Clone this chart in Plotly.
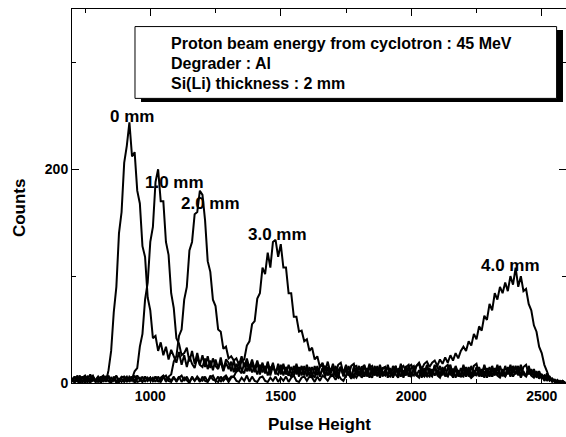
import plotly.graph_objects as go

# ---------------- data ----------------
PULSE_HEIGHT = list(range(700, 2600, 10))  # channel grid (10-channel bins)

COUNTS_0MM = [
    5, 1, 7, 2, 6, 0, 4, 8, 2, 3,
    6, 2, 7, 1, 12, 30, 66, 90, 140, 160,
    206, 222, 244, 212, 216, 180, 168, 128, 118, 80,
    68, 42, 44, 30, 38, 26, 34, 22, 31, 24,
    19, 29, 17, 26, 15, 25, 18, 14, 24, 17,
    15, 23, 13, 21, 12, 22, 14, 20, 11, 19,
    13, 20, 10, 18, 12, 9, 19, 11, 17, 10,
    15, 8, 17, 10, 16, 7, 14, 17, 9, 15,
    8, 16, 10, 7, 15, 9, 14, 6, 15, 9,
    13, 7, 15, 8, 14, 6, 13, 16, 7, 12,
    14, 6, 12, 15, 7, 13, 8, 5, 14, 8,
    7, 13, 6, 14, 8, 5, 13, 7, 15, 6,
    12, 7, 14, 5, 11, 13, 6, 12, 7, 14,
    6, 13, 7, 12, 5, 14, 8, 6, 13, 7,
    12, 5, 11, 14, 6, 11, 13, 5, 12, 7,
    6, 13, 7, 5, 12, 7, 14, 6, 11, 5,
    11, 6, 13, 7, 5, 12, 6, 11, 13, 6,
    10, 12, 5, 11, 6, 13, 7, 5, 11, 6,
    8, 4, 9, 3, 4, 1, 3, 0, 2, 0,
]

COUNTS_1MM = [
    2, 6, 1, 5, 0, 7, 3, 1, 6, 2,
    1, 5, 7, 2, 6, 1, 5, 0, 3, 6,
    5, 1, 6, 4, 11, 14, 34, 46, 78, 94,
    132, 146, 188, 200, 170, 170, 132, 120, 84, 70,
    42, 37, 26, 28, 33, 20, 30, 18, 28, 17,
    26, 15, 25, 14, 23, 16, 13, 24, 12, 22,
    19, 11, 21, 10, 20, 12, 9, 19, 11, 18,
    10, 19, 8, 17, 9, 18, 7, 16, 10, 8,
    17, 7, 15, 9, 6, 16, 8, 15, 7, 16,
    6, 15, 8, 5, 16, 7, 14, 6, 15, 8,
    14, 7, 5, 15, 8, 6, 16, 7, 5, 14,
    7, 15, 6, 13, 5, 14, 7, 16, 6, 13,
    15, 5, 13, 7, 16, 6, 14, 5, 13, 7,
    6, 14, 7, 5, 15, 8, 6, 14, 7, 16,
    7, 5, 14, 8, 6, 15, 5, 13, 7, 6,
    14, 6, 13, 5, 7, 15, 6, 13, 5, 14,
    6, 13, 7, 15, 5, 13, 7, 14, 6, 13,
    14, 7, 15, 8, 6, 14, 7, 11, 5, 9,
    4, 7, 5, 6, 2, 3, 0, 2, 0, 1,
]

COUNTS_2MM = [
    1, 5, 2, 7, 1, 4, 6, 0, 5, 2,
    5, 1, 6, 2, 7, 1, 4, 6, 3, 1,
    4, 6, 1, 5, 2, 7, 3, 1, 6, 2,
    5, 2, 6, 1, 5, 7, 2, 6, 8, 20,
    25, 44, 50, 78, 90, 124, 132, 158, 160, 180,
    176, 152, 114, 104, 78, 72, 50, 48, 32, 34,
    23, 25, 21, 23, 17, 25, 15, 23, 14, 22,
    13, 21, 12, 19, 10, 20, 11, 19, 8, 18,
    10, 18, 8, 17, 9, 7, 18, 9, 16, 7,
    17, 8, 6, 16, 7, 15, 17, 6, 15, 7,
    8, 16, 7, 15, 6, 16, 8, 5, 15, 16,
    7, 15, 16, 6, 14, 16, 7, 15, 5, 14,
    15, 7, 6, 16, 8, 5, 15, 7, 16, 6,
    14, 16, 7, 6, 15, 7, 17, 8, 6, 15,
    16, 7, 15, 6, 14, 17, 7, 15, 6, 14,
    7, 15, 6, 16, 8, 7, 15, 6, 17, 8,
    15, 6, 14, 7, 16, 8, 6, 15, 7, 16,
    8, 16, 7, 15, 17, 8, 13, 6, 10, 4,
    8, 2, 6, 2, 4, 1, 2, 0, 1, 0,
]

COUNTS_3MM = [
    4, 0, 5, 1, 6, 2, 1, 5, 7, 1,
    2, 6, 1, 5, 2, 0, 6, 2, 1, 5,
    6, 1, 5, 2, 7, 1, 2, 6, 1, 5,
    2, 5, 1, 6, 2, 7, 1, 5, 2, 6,
    1, 5, 7, 2, 6, 1, 5, 2, 6, 3,
    2, 6, 1, 7, 3, 2, 6, 1, 5, 7,
    3, 6, 6, 11, 12, 21, 22, 35, 39, 55,
    58, 79, 84, 108, 102, 122, 108, 132, 134, 118,
    130, 108, 108, 84, 84, 62, 62, 48, 49, 39,
    41, 30, 33, 22, 25, 15, 19, 11, 20, 10,
    18, 8, 17, 19, 9, 17, 7, 16, 18, 8,
    16, 7, 17, 9, 18, 8, 16, 6, 17, 9,
    7, 17, 9, 6, 16, 8, 18, 7, 15, 17,
    9, 7, 16, 18, 8, 6, 16, 9, 7, 17,
    8, 16, 7, 15, 17, 8, 6, 16, 9, 7,
    17, 8, 15, 7, 16, 18, 8, 7, 16, 9,
    7, 16, 8, 17, 9, 7, 16, 8, 17, 9,
    16, 8, 17, 9, 7, 16, 8, 13, 6, 11,
    5, 7, 2, 6, 1, 3, 0, 1, 2, 0,
]

COUNTS_4MM = [
    1, 6, 2, 0, 5, 7, 1, 4, 6, 1,
    5, 0, 4, 6, 1, 5, 2, 7, 1, 4,
    1, 5, 2, 6, 0, 4, 5, 1, 6, 2,
    5, 1, 6, 2, 1, 5, 7, 2, 1, 5,
    2, 6, 1, 5, 2, 0, 6, 2, 5, 1,
    6, 2, 1, 5, 7, 2, 1, 6, 2, 5,
    1, 5, 6, 2, 1, 5, 2, 7, 1, 6,
    2, 1, 5, 6, 2, 1, 5, 2, 6, 1,
    5, 2, 6, 1, 5, 7, 2, 1, 5, 6,
    2, 6, 5, 1, 6, 2, 7, 5, 2, 6,
    7, 3, 8, 4, 2, 7, 9, 4, 8, 5,
    10, 5, 9, 12, 6, 10, 11, 7, 13, 8,
    12, 14, 9, 13, 15, 10, 14, 16, 11, 15,
    17, 12, 16, 19, 13, 18, 20, 15, 19, 21,
    16, 22, 18, 24, 19, 26, 21, 28, 23, 30,
    34, 30, 39, 35, 46, 41, 53, 49, 63, 59,
    74, 68, 84, 78, 90, 84, 94, 86, 100, 92,
    108, 90, 100, 86, 88, 74, 68, 54, 48, 34,
    28, 17, 11, 4, 4, 1, 2, 0, 1, 0,
]

SERIES = [COUNTS_0MM, COUNTS_1MM, COUNTS_2MM, COUNTS_3MM, COUNTS_4MM]
PEAK_LABELS = ["0 mm", "1.0 mm", "2.0 mm", "3.0 mm", "4.0 mm"]
INFO_LINES = [
    "Proton beam energy from cyclotron : 45 MeV",
    "Degrader : Al",
    "Si(Li) thickness : 2 mm",
]
X_TITLE = "Pulse Height"
Y_TITLE = "Counts"

# ---------------- figure ----------------
FONT = "Liberation Sans, Arial, sans-serif"
fig = go.Figure()
for i, (ys, name) in enumerate(zip(SERIES, PEAK_LABELS)):
    # last series is drawn on the (identical-range) right-hand axis so that
    # the right axis gets its inside ticks without a visible frame line
    fig.add_trace(go.Scatter(x=PULSE_HEIGHT, y=ys, mode="lines", name=name,
                             yaxis="y2" if i == len(SERIES) - 1 else "y",
                             line=dict(color="black", width=2),
                             showlegend=False, hoverinfo="skip"))

# peak label positions (data coords)
label_pos = [(930, 249), (1091, 188), (1229, 168), (1489, 139), (2382, 110)]
annotations = []
for (lx, ly), txt in zip(label_pos, PEAK_LABELS):
    annotations.append(dict(x=lx, y=ly, xref="x", yref="y", text=txt,
                            showarrow=False, xanchor="center", yanchor="middle",
                            font=dict(family=FONT, size=17, color="black", weight="bold")))

# info box text
for yy, txt in zip([0.9083, 0.855, 0.8015], INFO_LINES):
    annotations.append(dict(x=0.197, y=yy, xref="paper", yref="paper", text=txt,
                            showarrow=False, xanchor="left", yanchor="middle",
                            font=dict(family=FONT, size=16, color="black", weight="bold")))

# axis titles
annotations.append(dict(x=-0.105, y=0.468, xref="paper", yref="paper", text=Y_TITLE,
                        textangle=-90, showarrow=False, xanchor="center", yanchor="middle",
                        font=dict(family=FONT, size=17, color="black", weight="bold")))
annotations.append(dict(x=0.502, y=-0.111, xref="paper", yref="paper", text=X_TITLE,
                        showarrow=False, xanchor="center", yanchor="middle",
                        font=dict(family=FONT, size=17, color="black", weight="bold")))

shapes = [
    dict(type="rect", xref="paper", yref="paper", x0=0.1397, x1=0.9939, y0=0.7515, y1=0.944,
         fillcolor="black", line=dict(width=0), layer="above"),
    dict(type="rect", xref="paper", yref="paper", x0=0.1275, x1=0.981, y0=0.761, y1=0.953,
         fillcolor="white", line=dict(color="black", width=1), layer="above"),
]

tickfont = dict(family=FONT, size=14, color="black", weight="bold")
fig.update_layout(
    width=566, height=437,
    margin=dict(l=72, r=0, t=9, b=54),
    paper_bgcolor="white", plot_bgcolor="white",
    annotations=annotations, shapes=shapes,
    font=dict(family=FONT, color="black"),
    yaxis=dict(range=[0, 350], dtick=200, tick0=0, ticks="inside", ticklen=7,
               tickwidth=1, tickcolor="black", showline=True, linecolor="black",
               linewidth=1, mirror=False, showgrid=False, zeroline=False,
               tickfont=tickfont,
               minor=dict(dtick=100, tick0=0, ticks="inside", ticklen=4,
                          tickcolor="black", showgrid=False)),
    yaxis2=dict(overlaying="y", side="right", anchor="x", range=[0, 350], dtick=200, tick0=0,
                ticks="inside", ticklen=7, tickwidth=1, tickcolor="black",
                showticklabels=False, showline=False, showgrid=False, zeroline=False,
                minor=dict(dtick=100, tick0=0, ticks="inside", ticklen=4,
                           tickcolor="black", showgrid=False)),
)
fig.update_xaxes(range=[700, 2593], dtick=500, tick0=0, ticks="inside", ticklen=7,
                 tickwidth=1, tickcolor="black", showline=True, linecolor="black",
                 linewidth=1, mirror="ticks", showgrid=False, zeroline=False,
                 tickfont=tickfont,
                 minor=dict(dtick=250, tick0=0, ticks="inside", ticklen=4, tickcolor="black",
                            showgrid=False))

fig.write_html("out.html")
